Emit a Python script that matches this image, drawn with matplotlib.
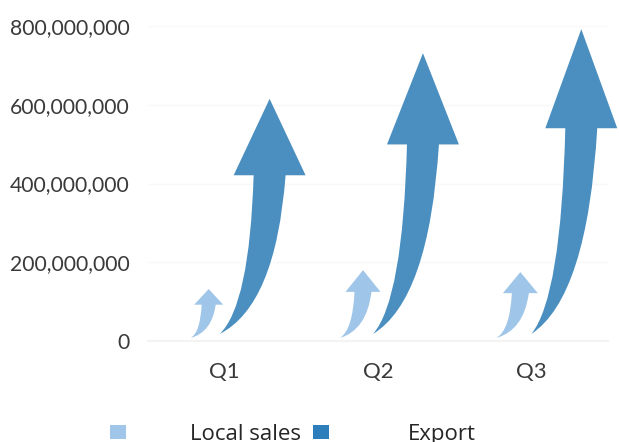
import matplotlib
matplotlib.use("Agg")
import matplotlib.pyplot as plt
from matplotlib.path import Path
from matplotlib.patches import PathPatch, Rectangle

categories = ["Q1", "Q2", "Q3"]
local_sales = [132000000, 180000000, 175000000]
export = [615000000, 731000000, 792000000]
y_ticks = [0, 200000000, 400000000, 600000000, 800000000]

LOCAL_COLOR = "#9fc5e8"
EXPORT_COLOR = "#4a8fc0"
EXPORT_KEY = "#2e7ebc"
TEXT = "#3a3a3a"
LEGEND_TEXT = "#262626"
PX = 1 / 153.5          # one pixel in category units
YPX = 800000000 / 315   # one pixel in value units

plt.rcParams["font.family"] = ["Lato", "DejaVu Sans"]

fig = plt.figure(figsize=(6.19, 4.42), dpi=100)
ax = fig.add_axes([148 / 619, 1 - 341 / 442, 460 / 619, 315 / 442])
ax.set_xlim(-0.5, 2.5)
ax.set_ylim(0, 800000000)


# curved arrow rising from near the axis up to the value
def arrow(x_base, y_base, x_tip, value, head_w, shaft_w, head_frac, color):
    y_head = y_base + (value - y_base) * (1 - head_frac)
    xl = x_tip - shaft_w / 2
    xr = x_tip + shaft_w / 2
    y_ctrl = y_base + (y_head - y_base) * 0.18
    verts = [
        (x_base, y_base),
        (xl - (xl - x_base) * 0.12, y_ctrl), (xl, y_head),
        (x_tip - head_w / 2, y_head),
        (x_tip, value),
        (x_tip + head_w / 2, y_head),
        (xr, y_head),
        (xr - (xr - x_base) * 0.15, y_ctrl), (x_base, y_base),
    ]
    codes = [Path.MOVETO, Path.CURVE3, Path.CURVE3, Path.LINETO, Path.LINETO,
             Path.LINETO, Path.LINETO, Path.CURVE3, Path.CURVE3]
    ax.add_patch(PathPatch(Path(verts, codes), facecolor=color, edgecolor="none",
                           zorder=3, clip_on=False))


local_base = [-34, -38, -35]
local_tip = [-16, -15, -11]
local_head = [29, 35, 35]
local_shaft = [14, 17, 17]
export_base = [-5, -5, 0]
export_tip = [45, 45, 50]

for i, cat in enumerate(categories):
    arrow(i + local_base[i] * PX, 3 * YPX, i + local_tip[i] * PX, local_sales[i],
          local_head[i] * PX, local_shaft[i] * PX, 0.32, LOCAL_COLOR)
    arrow(i + export_base[i] * PX, 7 * YPX, i + export_tip[i] * PX, export[i],
          72 * PX, 32 * PX, 0.325, EXPORT_COLOR)

ax.set_xticks(range(len(categories)))
ax.set_xticklabels(categories, fontsize=16, color=TEXT)
ax.set_yticks(y_ticks)
ax.set_yticklabels([f"{v:,}" for v in y_ticks], fontsize=15.2, color=TEXT)
ax.tick_params(axis="both", length=0)
ax.tick_params(axis="x", pad=15)
ax.tick_params(axis="y", pad=13)

ax.grid(axis="y", color="#f8f8f8", linewidth=1)
ax.set_axisbelow(True)
for s in ["top", "right", "left"]:
    ax.spines[s].set_visible(False)
ax.spines["bottom"].set_color("#f3f3f3")
ax.spines["bottom"].set_linewidth(1.5)

# legend
fig.add_artist(Rectangle((110 / 619, 1 - 439 / 442), 16 / 619, 14 / 442,
                         transform=fig.transFigure, facecolor=LOCAL_COLOR, edgecolor="none"))
fig.add_artist(Rectangle((313 / 619, 1 - 439 / 442), 16 / 619, 14 / 442,
                         transform=fig.transFigure, facecolor=EXPORT_KEY, edgecolor="none"))
fig.text(190 / 619, 1 - 440 / 442, "Local sales", fontsize=16, color=LEGEND_TEXT,
         family=["Open Sans", "DejaVu Sans"], va="baseline")
fig.text(408 / 619, 1 - 440 / 442, "Export", fontsize=16, color=LEGEND_TEXT,
         family=["Open Sans", "DejaVu Sans"], va="baseline")

fig.savefig("out.png", dpi=100)
